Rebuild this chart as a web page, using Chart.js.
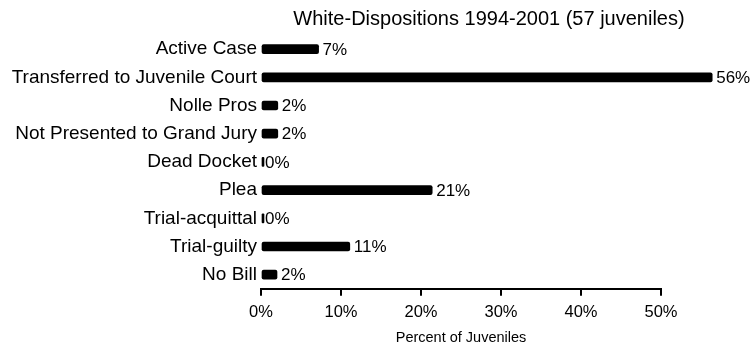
<!DOCTYPE html>
<html>
	<head>
		<meta charset="utf-8">
		<title>White-Dispositions</title>
		<script type="text/javascript" src="https://cdn.jsdelivr.net/npm/chart.js@4.4.0/dist/chart.umd.min.js"></script>
		<style type="text/css">
			body{
				margin: 0;
				background: #ffffff;
			}
			#contenedor{
				width: 752px;
				height: 347px;
			}
		</style>
	</head>
	<body>
		<div id="contenedor">
			<canvas id="grafico"></canvas>
		</div>

<script type="text/javascript">
	// datos
	var categorias = ["Active Case", "Transferred to Juvenile Court", "Nolle Pros", "Not Presented to Grand Jury", "Dead Docket", "Plea", "Trial-acquittal", "Trial-guilty", "No Bill"];
	var porcentajes = [7.2, 56.4, 2.1, 2.1, 0, 21.4, 0, 11.1, 2.0];
	var marcasX = [0, 10, 20, 30, 40, 50];
	var titulo = "White-Dispositions 1994-2001 (57 juveniles)";
	var tituloEje = "Percent of Juveniles";

	var fuente = "'Liberation Sans', Arial, sans-serif";

	// titulo centrado como en el original
	var pluginTitulo = {
		id: "tituloPropio",
		afterDraw: function(chart){
			var ctx = chart.ctx;
			ctx.save();
			ctx.font = "20px " + fuente;
			ctx.fillStyle = "#000000";
			ctx.textAlign = "center";
			ctx.textBaseline = "middle";
			ctx.fillText(titulo, 489, 19);
			ctx.restore();
		}
	};

	// etiquetas de porcentaje al final de cada barra
	var pluginEtiquetas = {
		id: "etiquetas",
		afterDatasetsDraw: function(chart){
			var ctx = chart.ctx;
			var meta = chart.getDatasetMeta(0);
			var x = chart.scales.x;
			ctx.save();
			ctx.font = "17px " + fuente;
			ctx.fillStyle = "#000000";
			ctx.textAlign = "left";
			ctx.textBaseline = "middle";
			meta.data.forEach(function(barra, i){
				var v = porcentajes[i];
				ctx.fillText(Math.round(v) + "%", x.getPixelForValue(v) + 4, barra.y + 1);
			});
			ctx.restore();
		}
	};

	var graphTarget = document.getElementById("grafico");
	var barGraph = new Chart(graphTarget, {
		type: "bar",
		data: {
			labels: categorias,
			datasets: [{
				data: porcentajes,
				backgroundColor: "#000000",
				borderWidth: 0,
				borderRadius: 2,
				borderSkipped: false,
				barThickness: 9,
				minBarLength: 3,
				clip: false
			}]
		},
		options: {
			indexAxis: "y",
			responsive: true,
			maintainAspectRatio: false,
			animation: false,
			layout: {
				padding: {top: 35, right: 91, bottom: 0, left: 0}
			},
			plugins: {
				legend: {display: false},
				title: {display: false},
				tooltip: {enabled: false}
			},
			scales: {
				x: {
					min: 0,
					max: 50,
					afterBuildTicks: function(scale){
						scale.ticks = marcasX.map(function(v){ return {value: v}; });
					},
					ticks: {
						color: "#000000",
						padding: 7,
						font: {family: fuente, size: 16.5},
						callback: function(v){ return v + "%"; }
					},
					grid: {
						drawOnChartArea: false,
						drawTicks: true,
						tickLength: 7,
						color: "#000000",
						lineWidth: 2
					},
					border: {
						display: true,
						color: "#000000",
						width: 2
					},
					title: {
						display: true,
						text: tituloEje,
						color: "#000000",
						font: {family: fuente, size: 14.5},
						padding: {top: 0, bottom: 0}
					}
				},
				y: {
					afterFit: function(scale){
						scale.width = 261;
					},
					ticks: {
						color: "#000000",
						padding: 4,
						font: {family: fuente, size: 19}
					},
					grid: {display: false, drawTicks: false},
					border: {display: false}
				}
			}
		},
		plugins: [pluginTitulo, pluginEtiquetas]
	});
</script>

</body>
</html>
